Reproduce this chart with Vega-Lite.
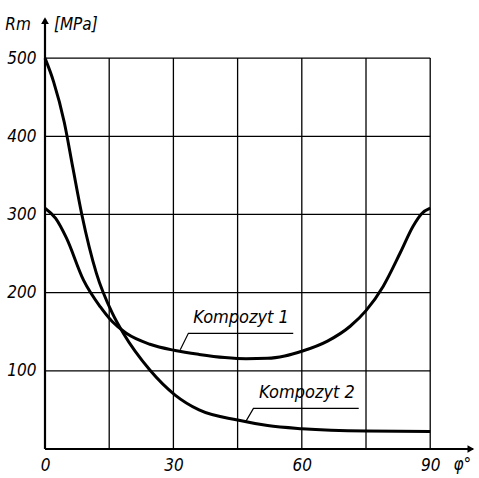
{
  "$schema": "https://vega.github.io/schema/vega-lite/v6.json",
  "width": 434,
  "height": 437,
  "autosize": {"type": "none"},
  "padding": {"left": 45, "top": 12, "right": 0, "bottom": 29},
  "background": "white",
  "config": {"view": {"stroke": null}},
  "datasets": {
    "curves": [
      {"series": "Kompozyt 1", "phi": 0, "rm": 308},
      {"series": "Kompozyt 1", "phi": 2.5, "rm": 295},
      {"series": "Kompozyt 1", "phi": 5, "rm": 270},
      {"series": "Kompozyt 1", "phi": 9, "rm": 216},
      {"series": "Kompozyt 1", "phi": 12.9, "rm": 182},
      {"series": "Kompozyt 1", "phi": 15.7, "rm": 163},
      {"series": "Kompozyt 1", "phi": 19, "rm": 148},
      {"series": "Kompozyt 1", "phi": 24.5, "rm": 134},
      {"series": "Kompozyt 1", "phi": 30.4, "rm": 126},
      {"series": "Kompozyt 1", "phi": 36, "rm": 121},
      {"series": "Kompozyt 1", "phi": 42, "rm": 117},
      {"series": "Kompozyt 1", "phi": 47, "rm": 115.5},
      {"series": "Kompozyt 1", "phi": 52, "rm": 116},
      {"series": "Kompozyt 1", "phi": 56, "rm": 119},
      {"series": "Kompozyt 1", "phi": 60, "rm": 125},
      {"series": "Kompozyt 1", "phi": 66, "rm": 138},
      {"series": "Kompozyt 1", "phi": 71.3, "rm": 157},
      {"series": "Kompozyt 1", "phi": 75, "rm": 177},
      {"series": "Kompozyt 1", "phi": 79, "rm": 208},
      {"series": "Kompozyt 1", "phi": 83, "rm": 251},
      {"series": "Kompozyt 1", "phi": 86, "rm": 285},
      {"series": "Kompozyt 1", "phi": 88, "rm": 301},
      {"series": "Kompozyt 1", "phi": 90, "rm": 308},
      {"series": "Kompozyt 2", "phi": 0, "rm": 500},
      {"series": "Kompozyt 2", "phi": 2, "rm": 470},
      {"series": "Kompozyt 2", "phi": 4.5, "rm": 418},
      {"series": "Kompozyt 2", "phi": 6.5, "rm": 360},
      {"series": "Kompozyt 2", "phi": 8.6, "rm": 300},
      {"series": "Kompozyt 2", "phi": 12, "rm": 225},
      {"series": "Kompozyt 2", "phi": 15.7, "rm": 174},
      {"series": "Kompozyt 2", "phi": 18.3, "rm": 148},
      {"series": "Kompozyt 2", "phi": 24.5, "rm": 101},
      {"series": "Kompozyt 2", "phi": 30.4, "rm": 69},
      {"series": "Kompozyt 2", "phi": 36, "rm": 50},
      {"series": "Kompozyt 2", "phi": 45, "rm": 37},
      {"series": "Kompozyt 2", "phi": 52, "rm": 30},
      {"series": "Kompozyt 2", "phi": 60, "rm": 26},
      {"series": "Kompozyt 2", "phi": 75, "rm": 23},
      {"series": "Kompozyt 2", "phi": 90, "rm": 22.5}
    ],
    "vgrid": [
      {"phi": 15, "y0": 0, "y1": 500},
      {"phi": 30, "y0": 0, "y1": 500},
      {"phi": 45, "y0": 0, "y1": 500},
      {"phi": 60, "y0": 0, "y1": 500},
      {"phi": 75, "y0": 0, "y1": 500},
      {"phi": 90, "y0": 0, "y1": 500}
    ],
    "hgrid": [
      {"rm": 100, "x0": 0, "x1": 90},
      {"rm": 200, "x0": 0, "x1": 90},
      {"rm": 300, "x0": 0, "x1": 90},
      {"rm": 400, "x0": 0, "x1": 90},
      {"rm": 500, "x0": 0, "x1": 90}
    ],
    "leaders": [
      {"label": "Kompozyt 1", "order": 1, "phi": 31.6, "rm": 127},
      {"label": "Kompozyt 1", "order": 2, "phi": 33.5, "rm": 148},
      {"label": "Kompozyt 1", "order": 3, "phi": 58, "rm": 148},
      {"label": "Kompozyt 2", "order": 1, "phi": 47, "rm": 36},
      {"label": "Kompozyt 2", "order": 2, "phi": 48.7, "rm": 52},
      {"label": "Kompozyt 2", "order": 3, "phi": 73.3, "rm": 52}
    ],
    "labels": [
      {"text": "Kompozyt 1", "phi": 45.8, "rm": 168},
      {"text": "Kompozyt 2", "phi": 61.2, "rm": 72}
    ],
    "titles": [
      {"text": "Rm", "phi": -6.3, "rm": 543},
      {"text": "[MPa]", "phi": 7.2, "rm": 543},
      {"text": "φ°", "phi": 97.5, "rm": -21}
    ]
  },
  "layer": [
    {
      "data": {"name": "vgrid"},
      "mark": {"type": "rule", "color": "black", "strokeWidth": 1.3},
      "encoding": {
        "x": {"field": "phi", "type": "quantitative", "scale": {"domain": [0, 101.4], "nice": false, "zero": false},
          "axis": {"values": [0, 30, 60, 90], "domain": false, "ticks": false, "grid": false, "title": null,
            "labelFont": "DejaVu Sans Condensed", "labelFontStyle": "italic", "labelFontSize": 17,
            "labelColor": "black", "labelPadding": 8, "labelFlush": false}},
        "y": {"field": "y0", "type": "quantitative", "scale": {"domain": [0, 559], "nice": false},
          "axis": {"values": [100, 200, 300, 400, 500], "domain": false, "ticks": false, "grid": false, "title": null,
            "labelFont": "DejaVu Sans Condensed", "labelFontStyle": "italic", "labelFontSize": 17,
            "labelColor": "black", "labelPadding": 9}},
        "y2": {"field": "y1"}
      }
    },
    {
      "data": {"name": "hgrid"},
      "mark": {"type": "rule", "color": "black", "strokeWidth": 1.3},
      "encoding": {
        "y": {"field": "rm", "type": "quantitative"},
        "x": {"field": "x0", "type": "quantitative"},
        "x2": {"field": "x1"}
      }
    },
    {
      "data": {"values": [{"a": 0}]},
      "mark": {"type": "rule", "color": "black", "strokeWidth": 2.2},
      "encoding": {"x": {"datum": 0, "type": "quantitative"}, "y": {"datum": 0, "type": "quantitative"}, "y2": {"datum": 550}}
    },
    {
      "data": {"values": [{"a": 0}]},
      "mark": {"type": "rule", "color": "black", "strokeWidth": 2},
      "encoding": {"y": {"datum": 0, "type": "quantitative"}, "x": {"datum": 0, "type": "quantitative"}, "x2": {"datum": 100}}
    },
    {
      "data": {"values": [{"phi": 0, "rm": 548}]},
      "mark": {"type": "point", "shape": "triangle-up", "filled": true, "color": "black", "size": 60, "opacity": 1},
      "encoding": {"x": {"field": "phi", "type": "quantitative"}, "y": {"field": "rm", "type": "quantitative"}}
    },
    {
      "data": {"values": [{"phi": 99.5, "rm": 0}]},
      "mark": {"type": "point", "shape": "triangle-right", "filled": true, "color": "black", "size": 60, "opacity": 1},
      "encoding": {"x": {"field": "phi", "type": "quantitative"}, "y": {"field": "rm", "type": "quantitative"}}
    },
    {
      "data": {"name": "curves"},
      "mark": {"type": "line", "color": "black", "strokeWidth": 3, "interpolate": "monotone"},
      "encoding": {
        "x": {"field": "phi", "type": "quantitative"},
        "y": {"field": "rm", "type": "quantitative"},
        "detail": {"field": "series"}
      }
    },
    {
      "data": {"name": "leaders"},
      "mark": {"type": "line", "color": "black", "strokeWidth": 1.2},
      "encoding": {
        "x": {"field": "phi", "type": "quantitative"},
        "y": {"field": "rm", "type": "quantitative"},
        "detail": {"field": "label"},
        "order": {"field": "order"}
      }
    },
    {
      "data": {"name": "labels"},
      "mark": {"type": "text", "font": "DejaVu Sans Condensed", "fontStyle": "italic", "fontSize": 18, "color": "black", "baseline": "middle", "align": "center"},
      "encoding": {
        "x": {"field": "phi", "type": "quantitative"},
        "y": {"field": "rm", "type": "quantitative"},
        "text": {"field": "text"}
      }
    },
    {
      "data": {"name": "titles"},
      "mark": {"type": "text", "font": "DejaVu Sans Condensed", "fontStyle": "italic", "fontSize": 17, "color": "black", "baseline": "middle", "align": "center"},
      "encoding": {
        "x": {"field": "phi", "type": "quantitative"},
        "y": {"field": "rm", "type": "quantitative"},
        "text": {"field": "text"}
      }
    }
  ]
}
